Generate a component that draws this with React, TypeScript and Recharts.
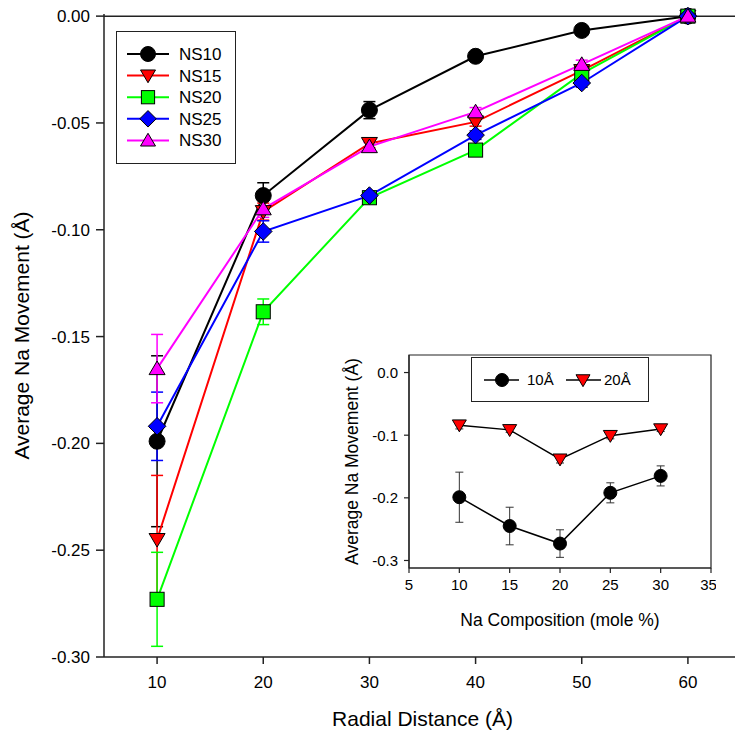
import {
  ErrorBar,
  Line,
  LineChart,
  ReferenceArea,
  ReferenceLine,
  XAxis,
  YAxis,
} from 'recharts';

// Radial distance from the centre (Å)
const radialDistance = [10, 20, 30, 40, 50, 60];

// Average Na displacement (Å) and its error for each glass composition
const ns10 = [-0.199, -0.084, -0.044, -0.0188, -0.0067, 0];
const ns10Err = [0.04, 0.006, 0.004, 0.002, 0.002, 0.001];
const ns15 = [-0.245, -0.0915, -0.0596, -0.0495, -0.0255, 0];
const ns15Err = [0.03, 0.004, 0.002, 0.002, 0.002, 0.001];
const ns20 = [-0.273, -0.1384, -0.085, -0.0627, -0.0269, 0];
const ns20Err = [0.022, 0.006, 0.002, 0.002, 0.002, 0.001];
const ns25 = [-0.192, -0.1008, -0.084, -0.0557, -0.0313, 0];
const ns25Err = [0.016, 0.005, 0.002, 0.002, 0.002, 0.001];
const ns30 = [-0.165, -0.0902, -0.0611, -0.0448, -0.0226, 0];
const ns30Err = [0.016, 0.004, 0.002, 0.002, 0.002, 0.001];

// Na content of each composition (mole %)
const naComposition = [10, 15, 20, 25, 30];

const yTicks = [-0.3, -0.25, -0.2, -0.15, -0.1, -0.05, 0];
const xTicks = [10, 20, 30, 40, 50, 60];
const insetXTicks = [5, 10, 15, 20, 25, 30, 35];
const insetYTicks = [-0.3, -0.2, -0.1, 0];

type Shape = 'circle' | 'triangleDown' | 'square' | 'diamond' | 'triangleUp';

const series = [
  { key: 'ns10', name: 'NS10', values: ns10, err: ns10Err, color: '#000000', fill: '#000000', shape: 'circle' as Shape },
  { key: 'ns15', name: 'NS15', values: ns15, err: ns15Err, color: '#ff0000', fill: '#ff0000', shape: 'triangleDown' as Shape },
  { key: 'ns20', name: 'NS20', values: ns20, err: ns20Err, color: '#00ff00', fill: '#00ff00', shape: 'square' as Shape },
  { key: 'ns25', name: 'NS25', values: ns25, err: ns25Err, color: '#0000ff', fill: '#0000ff', shape: 'diamond' as Shape },
  { key: 'ns30', name: 'NS30', values: ns30, err: ns30Err, color: '#ff00ff', fill: '#ff00ff', shape: 'triangleUp' as Shape },
];

const mainData = radialDistance.map((x, i) => {
  const row: Record<string, number> = { x };
  series.forEach((s) => {
    row[s.key] = s.values[i];
    row[`${s.key}Err`] = s.err[i];
  });
  return row;
});

// inset: movement at 10 Å and 20 Å against composition
const insetData = naComposition.map((c, i) => ({
  c,
  r10: series[i].values[0],
  r10Err: series[i].err[0],
  r20: series[i].values[1],
  r20Err: series[i].err[1],
}));

const font = 'Arial, "Liberation Sans", sans-serif';
const axisColor = '#222';

function Marker({ cx, cy, shape, fill, size }: { cx: number; cy: number; shape: Shape; fill: string; size: number }) {
  if (cx == null || cy == null) return null;
  const h = size / 2;
  const common = { fill, stroke: '#000', strokeWidth: 1 };
  switch (shape) {
    case 'circle':
      return <circle cx={cx} cy={cy} r={h} {...common} />;
    case 'square':
      return <rect x={cx - h * 0.88} y={cy - h * 0.88} width={size * 0.88} height={size * 0.88} {...common} />;
    case 'diamond':
      return <polygon points={`${cx},${cy - h * 1.1} ${cx + h * 1.1},${cy} ${cx},${cy + h * 1.1} ${cx - h * 1.1},${cy}`} {...common} />;
    case 'triangleDown':
      return <polygon points={`${cx - h},${cy - h * 0.75} ${cx + h},${cy - h * 0.75} ${cx},${cy + h * 0.95}`} {...common} />;
    case 'triangleUp':
      return <polygon points={`${cx - h},${cy + h * 0.75} ${cx + h},${cy + h * 0.75} ${cx},${cy - h * 0.95}`} {...common} />;
  }
  return null;
}

function MainLegend() {
  return (
    <div style={{ position: 'absolute', left: 116, top: 31, border: '1.5px solid #222', background: '#fff', width: 118, height: 131 }}>
      <svg width={118} height={131} style={{ display: 'block' }}>
        {series.map((s, i) => {
          const y = 22 + i * 21.6;
          return (
            <g key={s.key}>
              <line x1={10} x2={52} y1={y} y2={y} stroke={s.color} strokeWidth={2} />
              <Marker cx={31} cy={y} shape={s.shape} fill={s.fill} size={15} />
              <text x={62} y={y + 6} fontSize={17} fontFamily={font} fill="#000">{s.name}</text>
            </g>
          );
        })}
      </svg>
    </div>
  );
}

function InsetLegend() {
  return (
    <div style={{ position: 'absolute', left: 131, top: 7, border: '1.5px solid #222', background: '#fff', width: 176, height: 43 }}>
      <svg width={176} height={43} style={{ display: 'block' }}>
        <line x1={12} x2={47} y1={22} y2={22} stroke="#000" strokeWidth={1.5} />
        <Marker cx={30} cy={22} shape="circle" fill="#000" size={13} />
        <text x={55} y={27} fontSize={15} fontFamily={font} fill="#000">10Å</text>
        <line x1={94} x2={129} y1={22} y2={22} stroke="#000" strokeWidth={1.5} />
        <Marker cx={111} cy={22} shape="triangleDown" fill="#ff0000" size={14} />
        <text x={132} y={27} fontSize={15} fontFamily={font} fill="#000">20Å</text>
      </svg>
    </div>
  );
}

export default function App() {
  return (
    <div style={{ position: 'absolute', left: 0, top: 0, width: 735, height: 732, overflow: 'hidden', background: '#fff', fontFamily: font }}>
      <LineChart width={760} height={732} data={mainData} margin={{ top: 14, right: 19, bottom: 0, left: 0 }}>
        <XAxis
          dataKey="x"
          type="number"
          domain={[5, 65]}
          ticks={xTicks}
          tickSize={7}
          tickMargin={12}
          tick={{ fontSize: 17, fill: '#000', fontFamily: font }}
          axisLine={{ stroke: axisColor, strokeWidth: 1.5 }}
          tickLine={{ stroke: axisColor, strokeWidth: 1.5 }}
          height={75}
          label={{ value: 'Radial Distance (Å)', position: 'insideBottom', offset: 6, style: { fontSize: 21, fill: '#000', fontFamily: font } }}
        />
        <YAxis
          type="number"
          domain={[-0.3, 0]}
          ticks={yTicks}
          tickFormatter={(v: number) => v.toFixed(2)}
          tickSize={8}
          tickMargin={6}
          tick={{ fontSize: 17, fill: '#000', fontFamily: font }}
          axisLine={{ stroke: axisColor, strokeWidth: 1.5 }}
          tickLine={{ stroke: axisColor, strokeWidth: 1.5 }}
          width={104}
          label={{ value: 'Average Na Movement (Å)', angle: -90, position: 'insideLeft', offset: 22, style: { fontSize: 21, fill: '#000', fontFamily: font, textAnchor: 'middle' } }}
        />
        <ReferenceLine y={0} stroke={axisColor} strokeWidth={1.5} />
        {series.map((s) => (
          <Line
            key={s.key}
            dataKey={s.key}
            name={s.name}
            stroke={s.color}
            strokeWidth={2}
            isAnimationActive={false}
            dot={(p: any) => <Marker key={`${s.key}-${p.index}`} cx={p.cx} cy={p.cy} shape={s.shape} fill={s.fill} size={16} />}
            activeDot={false}
          >
            <ErrorBar dataKey={`${s.key}Err`} direction="y" width={6} stroke={s.color} strokeWidth={1.5} />
          </Line>
        ))}
      </LineChart>
      <MainLegend />

      <div style={{ position: 'absolute', left: 340, top: 350 }}>
        <LineChart width={376} height={288} data={insetData} margin={{ top: 5, right: 5, bottom: 0, left: 0 }}>
          <ReferenceArea x1={5} x2={35} y1={-0.312} y2={0.028} fill="#fff" fillOpacity={1} stroke={axisColor} strokeWidth={1.2} />
          <XAxis
            dataKey="c"
            type="number"
            domain={[5, 35]}
            ticks={insetXTicks}
            tickSize={5}
            tickMargin={6}
            tick={{ fontSize: 15, fill: '#000', fontFamily: font }}
            axisLine={{ stroke: axisColor, strokeWidth: 1.2 }}
            tickLine={{ stroke: axisColor, strokeWidth: 1.2 }}
            height={70}
            label={{ value: 'Na Composition (mole %)', position: 'insideBottom', offset: 12, style: { fontSize: 17.5, fill: '#000', fontFamily: font } }}
          />
          <YAxis
            type="number"
            domain={[-0.312, 0.028]}
            ticks={insetYTicks}
            tickFormatter={(v: number) => v.toFixed(1)}
            tickSize={5}
            tickMargin={6}
            tick={{ fontSize: 15, fill: '#000', fontFamily: font }}
            axisLine={{ stroke: axisColor, strokeWidth: 1.2 }}
            tickLine={{ stroke: axisColor, strokeWidth: 1.2 }}
            width={69}
            label={{ value: 'Average Na Movement (Å)', angle: -90, position: 'insideLeft', offset: 12, style: { fontSize: 17.5, fill: '#000', fontFamily: font, textAnchor: 'middle' } }}
          />
          <Line
            dataKey="r20"
            name="20Å"
            stroke="#000"
            strokeWidth={1.5}
            isAnimationActive={false}
            activeDot={false}
            dot={(p: any) => <Marker key={`r20-${p.index}`} cx={p.cx} cy={p.cy} shape="triangleDown" fill="#ff0000" size={14} />}
          >
            <ErrorBar dataKey="r20Err" direction="y" width={4} stroke="#333" strokeWidth={1} />
          </Line>
          <Line
            dataKey="r10"
            name="10Å"
            stroke="#000"
            strokeWidth={1.5}
            isAnimationActive={false}
            activeDot={false}
            dot={(p: any) => <Marker key={`r10-${p.index}`} cx={p.cx} cy={p.cy} shape="circle" fill="#000" size={13} />}
          >
            <ErrorBar dataKey="r10Err" direction="y" width={4} stroke="#333" strokeWidth={1} />
          </Line>
        </LineChart>
        <InsetLegend />
      </div>
    </div>
  );
}
